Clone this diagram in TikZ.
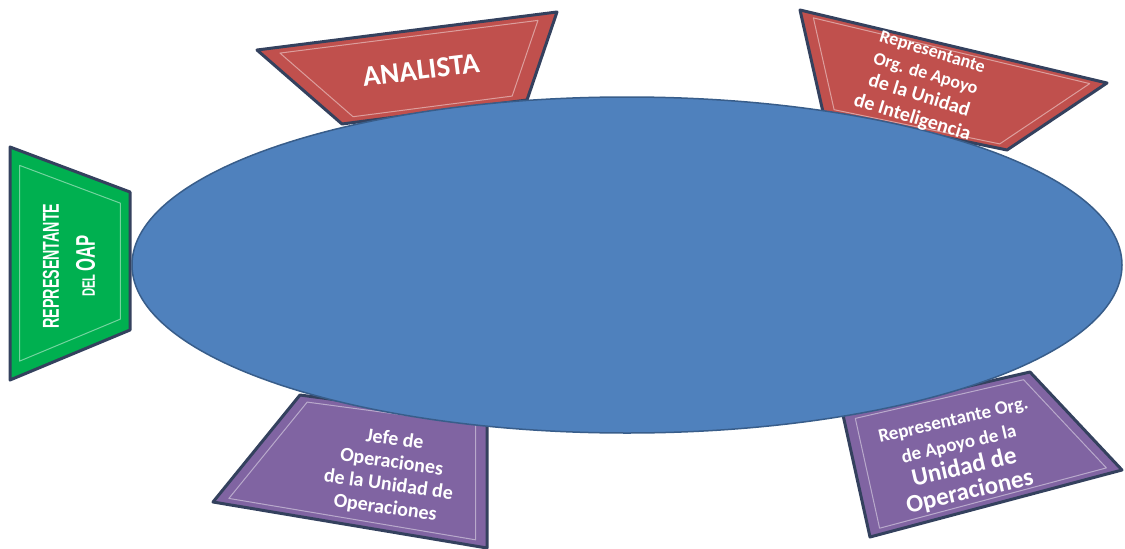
\documentclass[tikz,border=0pt]{standalone}
\usepackage{fontspec}
\setmainfont{Carlito}
\newfontfamily\angosta[FakeStretch=0.62]{Liberation Sans}
\usetikzlibrary{positioning}
\definecolor{rojo}{HTML}{C0504D}
\definecolor{verde}{HTML}{00B050}
\definecolor{morado}{HTML}{8064A2}
\definecolor{azul}{HTML}{4F81BD}
\definecolor{azulborde}{HTML}{385D8A}
\definecolor{borde}{HTML}{34415E}
\tikzset{
  panel/.style={draw=borde,line width=3pt,line join=round},
  bisel/.style={draw=white,draw opacity=0.45,line width=1pt,line join=round},
  rotulo/.style={text=white,align=center,inner sep=0pt}
}
\newcommand\tam[2]{\fontsize{#1}{#2}\selectfont}

\begin{document}
\begin{tikzpicture}[x=1pt,y=-1pt]
\useasboundingbox (0,0) rectangle (1125,549);

% paneles
\draw[panel,fill=verde] (10,147) -- (130,192) -- (130,330) -- (10,380) -- cycle;
\draw[bisel,scale around={0.84:(70,262)}] (10,147) -- (130,192) -- (130,330) -- (10,380) -- cycle;

\draw[panel,fill=rojo] (257,50) -- (557,12) -- (527,100) -- (342,124) -- cycle;
\draw[bisel,scale around={0.86:(421,72)}] (257,50) -- (557,12) -- (527,100) -- (342,124) -- cycle;

\draw[panel,fill=rojo] (800,10) -- (1107,83) -- (1007,150) -- (823,112) -- cycle;
\draw[bisel,scale around={0.9:(934,89)}] (800,10) -- (1107,83) -- (1007,150) -- (823,112) -- cycle;

\draw[panel,fill=morado] (300,395) -- (487,420) -- (487,548) -- (213,502) -- cycle;
\draw[bisel,scale around={0.9:(372,466)}] (300,395) -- (487,420) -- (487,548) -- (213,502) -- cycle;

\draw[panel,fill=morado] (843,415) -- (1030,372) -- (1122,470) -- (870,537) -- cycle;
\draw[bisel,scale around={0.9:(966,449)}] (843,415) -- (1030,372) -- (1122,470) -- (870,537) -- cycle;

% mesa
\draw[fill=azul,draw=azulborde,line width=1.5pt] (627,265) ellipse [x radius=495pt,y radius=168pt];

% rotulos
\node[rotulo,rotate=90,font=\angosta\bfseries\tam{23}{36}] (repOAP) at (69,266)
  {REPRESENTANTE\\
   \tam{18}{36}DEL \tam{27}{36}OAP};
\node[rotulo,rotate=7,font=\bfseries\tam{29}{30}] (analista) at (421,70) {ANALISTA};
\node[rotulo,rotate=-17,font=\bfseries\tam{18}{23}] (repInteligencia) at (922,86)
  {Representante\\
   Org. de Apoyo\\
   \tam{20}{23}de la Unidad\\
   \tam{20}{23}de Inteligencia};
\node[rotulo,rotate=-8,font=\bfseries\tam{20}{23}] (jefeOps) at (390,474)
  {Jefe de\\
   Operaciones\\
   de la Unidad de\\
   Operaciones};
\node[rotulo,rotate=13,font=\bfseries\tam{19}{25}] (repOps) at (962,458)
  {Representante Org.\\
   de Apoyo de la\\
   \tam{25}{25}Unidad de\\
   \tam{25}{25}Operaciones};
\end{tikzpicture}
\end{document}
